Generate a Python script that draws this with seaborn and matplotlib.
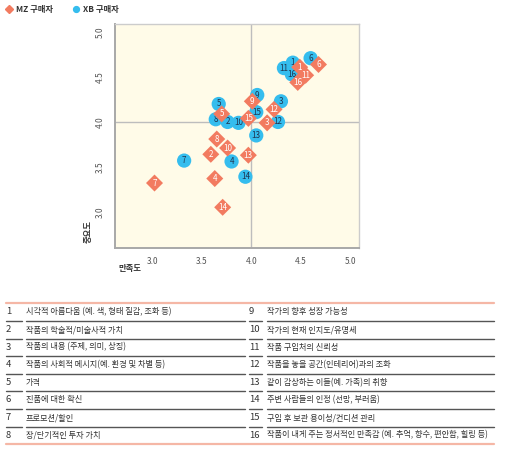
import numpy as np
import pandas as pd
import matplotlib.pyplot as plt
from matplotlib.lines import Line2D
import seaborn as sns

# 항목 번호 1~16
items = list(range(1, 17))

# XB 구매자 (만족도, 중요도)
xb_sat = [4.42, 3.76, 4.30, 3.80, 3.67, 4.60, 3.32, 3.64, 4.06, 3.87, 4.33, 4.27, 4.05, 3.94, 4.05, 4.41]
xb_imp = [4.66, 4.00, 4.23, 3.56, 4.20, 4.71, 3.57, 4.03, 4.30, 3.99, 4.60, 4.00, 3.85, 3.39, 4.11, 4.53]

# MZ 구매자 (만족도, 중요도)
mz_sat = [4.49, 3.59, 4.16, 3.63, 3.70, 4.68, 3.02, 3.65, 4.01, 3.76, 4.55, 4.23, 3.97, 3.71, 3.97, 4.47]
mz_imp = [4.61, 3.64, 3.99, 3.37, 4.09, 4.64, 3.32, 3.81, 4.23, 3.71, 4.52, 4.14, 3.63, 3.05, 4.04, 4.44]

labels_left = [
    "시각적 아름다움 (예. 색, 형태 질감, 조화 등)",
    "작품의 학술적/미술사적 가치",
    "작품의 내용 (주제, 의미, 상징)",
    "작품의 사회적 메시지(예. 환경 및 차별 등)",
    "가격",
    "진품에 대한 확신",
    "프로모션/할인",
    "장/단기적인 투자 가치",
]
labels_right = [
    "작가의 향후 성장 가능성",
    "작가의 현재 인지도/유명세",
    "작품 구입처의 신뢰성",
    "작품을 놓을 공간(인테리어)과의 조화",
    "같이 감상하는 이들(예. 가족)의 취향",
    "주변 사람들의 인정 (선망, 부러움)",
    "구입 후 보관 용이성/컨디션 관리",
    "작품이 내게 주는 정서적인 만족감 (예. 추억, 향수, 편안함, 힐링 등)",
]

sns.set_style("white")
plt.rcParams['font.family'] = ['Noto Sans CJK KR', 'DejaVu Sans']

blue = "#35bdee"
salmon = "#f27b60"
cream = "#fffbe8"

xb_df = pd.DataFrame({"item": items, "만족도": xb_sat, "중요도": xb_imp})
mz_df = pd.DataFrame({"item": items, "만족도": mz_sat, "중요도": mz_imp})

fig = plt.figure(figsize=(5.05, 4.54), dpi=100)
ax = fig.add_axes([0.2277, 0.4544, 0.4832, 0.4926])
ax.set_facecolor(cream)

ax.axvline(4.0, color="#bdbdbd", lw=1, zorder=1)
ax.axhline(4.0, color="#bdbdbd", lw=1, zorder=1)

sns.scatterplot(data=xb_df, x="만족도", y="중요도", marker="o", s=105,
                color=blue, edgecolor="none", ax=ax, zorder=2)
for _, r in xb_df.iterrows():
    ax.text(r["만족도"], r["중요도"], str(int(r["item"])), ha="center", va="center",
            fontsize=5.8, color="#1f3550", zorder=3)

sns.scatterplot(data=mz_df, x="만족도", y="중요도", marker="D", s=75,
                color=salmon, edgecolor="none", ax=ax, zorder=4)
for _, r in mz_df.iterrows():
    ax.text(r["만족도"], r["중요도"], str(int(r["item"])), ha="center", va="center",
            fontsize=5.8, color="white", zorder=5)

ax.set_xlim(2.62, 5.09)
ax.set_ylim(2.6, 5.09)
ax.set_xticks([3.0, 3.5, 4.0, 4.5, 5.0])
ax.set_yticks([3.0, 3.5, 4.0, 4.5, 5.0])
ax.set_xticklabels(["3.0", "3.5", "4.0", "4.5", "5.0"])
ax.set_yticklabels(["3.0", "3.5", "4.0", "4.5", "5.0"], rotation=90, va="center")
ax.tick_params(axis="both", direction="out", length=3, width=1, color="#555555",
               labelsize=6, labelcolor="#555555", pad=4)
for side in ["top", "right"]:
    ax.spines[side].set_color("#cccccc")
    ax.spines[side].set_linewidth(1)
for side in ["left", "bottom"]:
    ax.spines[side].set_color("#a8a8a8")
    ax.spines[side].set_linewidth(1.4)
ax.set_xlabel("")
ax.set_ylabel("")

fig.text(88 / 505, 1 - 232 / 454, "중요도", rotation=90, ha="center", va="center",
         fontsize=6, fontweight="bold", color="#333333")
fig.text(118 / 505, 1 - 268 / 454, "만족도", ha="left", va="center",
         fontsize=6, fontweight="bold", color="#333333")

# legend
handles = [
    Line2D([], [], marker="D", ls="none", color=salmon, markersize=3.6, label="MZ 구매자"),
    Line2D([], [], marker="o", ls="none", color=blue, markersize=4.2, label="XB 구매자"),
]
leg = fig.legend(handles=handles, loc="upper left", bbox_to_anchor=(-0.005, 1.006), ncol=2,
                 frameon=False, handletextpad=0.35, columnspacing=2.2, handlelength=1,
                 prop={"size": 6, "weight": "bold"})
for t in leg.get_texts():
    t.set_color("#333333")

# table
def fy(py):
    return 1 - py / 454

top = 303.3
row_h = 17.6
fig.add_artist(Line2D([6 / 505, 494 / 505], [fy(top), fy(top)], color="#f5b7a6", lw=1.6))
for i in range(8):
    yc = top + row_h * i + 8.6
    fig.text(6 / 505, fy(yc), str(items[i]), ha="left", va="center", fontsize=6.8, color="#333333")
    fig.text(26 / 505, fy(yc), labels_left[i], ha="left", va="center", fontsize=5.9, color="#333333")
    fig.text(249 / 505, fy(yc), str(items[i + 8]), ha="left", va="center", fontsize=6.8, color="#333333")
    fig.text(267 / 505, fy(yc), labels_right[i], ha="left", va="center", fontsize=5.9, color="#333333")
    yl = top + row_h * (i + 1)
    if i < 7:
        for x0, x1 in [(6, 21.7), (25.7, 245), (249.3, 261.7), (266.7, 494)]:
            fig.add_artist(Line2D([x0 / 505, x1 / 505], [fy(yl), fy(yl)], color="#555555", lw=1))
    else:
        fig.add_artist(Line2D([6 / 505, 494 / 505], [fy(yl), fy(yl)], color="#f5b7a6", lw=1.6))

fig.savefig("out.png", dpi=100)
